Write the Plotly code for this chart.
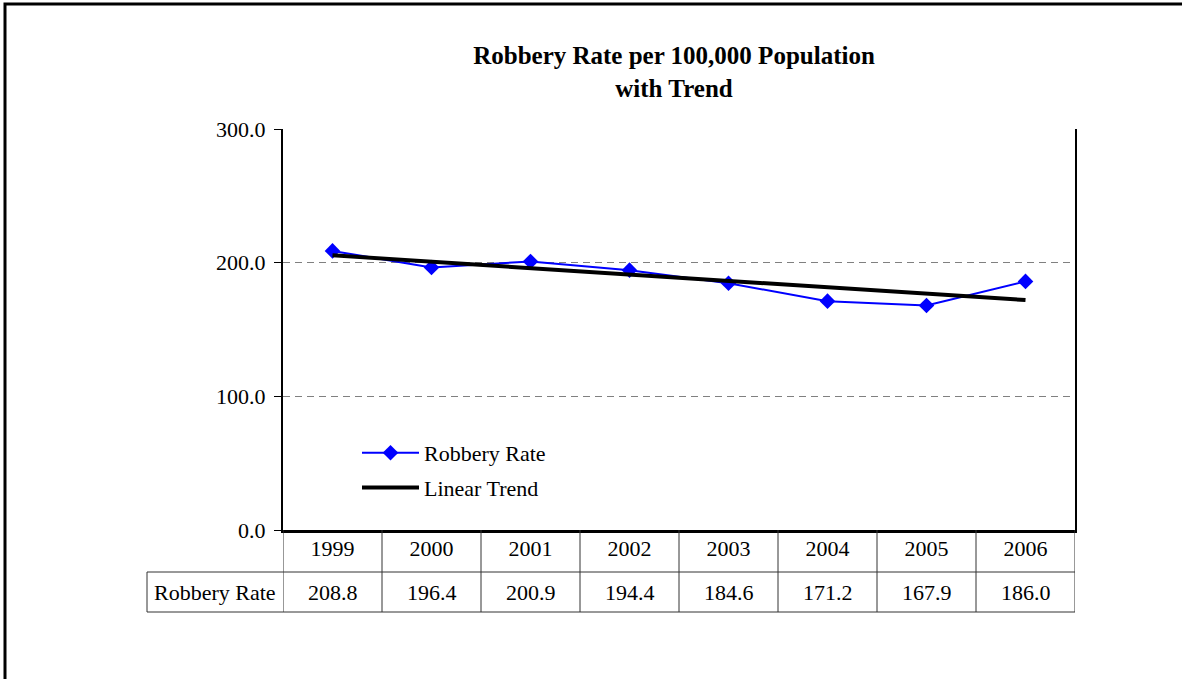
import numpy as np
import plotly.graph_objects as go

years = ["1999", "2000", "2001", "2002", "2003", "2004", "2005", "2006"]
robbery_rate = [208.8, 196.4, 200.9, 194.4, 184.6, 171.2, 167.9, 186.0]
y_ticks = [0, 100, 200, 300]

W, H = 1182, 679
FONT = "Times New Roman, Liberation Serif, serif"


def px(x):
    return x / W


def py(y):
    return 1 - y / H


# linear trend fitted on the series
idx = np.arange(len(years))
slope, intercept = np.polyfit(idx, robbery_rate, 1)
trend = slope * idx + intercept

fig = go.Figure()

fig.add_trace(go.Scatter(
    x=years,
    y=robbery_rate,
    mode='lines+markers',
    name='Robbery Rate',
    legendgroup='rate',
    line=dict(color='#0000ff', width=2),
    marker=dict(symbol='diamond', size=12, color='#0000ff')
))

fig.add_trace(go.Scatter(
    x=years,
    y=trend,
    mode='lines',
    name='Linear Trend',
    legendgroup='trend',
    line=dict(color='black', width=4)
))

shapes = []
# outer chart border
shapes.append(dict(type='rect', xref='paper', yref='paper',
                   x0=px(5), x1=px(1250), y0=py(750), y1=py(4),
                   line=dict(color='black', width=3)))
# data table grid
for i in range(len(years) + 1):
    shapes.append(dict(type='line', xref='x', yref='paper',
                       x0=i - 0.5, x1=i - 0.5, y0=py(530), y1=py(612),
                       line=dict(color='#333333', width=1)))
for yy in (572, 612):
    shapes.append(dict(type='line', xref='paper', yref='paper',
                       x0=px(147), x1=px(1075), y0=py(yy), y1=py(yy),
                       line=dict(color='#333333', width=1)))
shapes.append(dict(type='line', xref='paper', yref='paper',
                   x0=px(147), x1=px(147), y0=py(572), y1=py(612),
                   line=dict(color='#333333', width=1)))

annotations = [dict(x=px(215), y=py(592), xref='paper', yref='paper',
                    xanchor='center', yanchor='middle',
                    text='Robbery Rate', showarrow=False,
                    font=dict(family=FONT, size=22, color='black'))]
for i, v in enumerate(robbery_rate):
    annotations.append(dict(x=i, y=py(592), xref='x', yref='paper',
                            xanchor='center', yanchor='middle',
                            text=f"{v:.1f}", showarrow=False,
                            font=dict(family=FONT, size=22, color='black')))

fig.update_layout(
    width=W, height=H,
    margin=dict(l=0, r=0, t=0, b=0),
    paper_bgcolor='white',
    plot_bgcolor='white',
    font=dict(family=FONT, size=22, color='black'),
    title=dict(text='<b>Robbery Rate per 100,000 Population<br>with Trend</b>',
               x=px(674), xanchor='center', y=py(64), yanchor='top',
               font=dict(family=FONT, size=25, color='black')),
    xaxis=dict(domain=[px(283), px(1075)], type='category', range=[-0.5, 7.5],
               showline=True, linecolor='black', linewidth=3,
               showgrid=False, zeroline=False, ticks='', automargin=False,
               tickfont=dict(family=FONT, size=22), ticklabelstandoff=-3),
    yaxis=dict(domain=[py(530), py(129)], range=[0, 300], tickvals=y_ticks,
               tickformat='.1f', showgrid=True, gridcolor='#808080',
               griddash='7px,5px', gridwidth=1, zeroline=False, automargin=False,
               showline=True, linecolor='black', linewidth=2, mirror=True,
               ticks='outside', ticklen=7, tickcolor='black', tickwidth=1,
               tickfont=dict(family=FONT, size=22), ticklabelstandoff=4),
    legend=dict(x=px(357), y=py(432), xanchor='left', yanchor='top',
                bgcolor='rgba(0,0,0,0)', font=dict(family=FONT, size=22),
                itemwidth=57, traceorder='grouped', tracegroupgap=3),
    shapes=shapes,
    annotations=annotations,
)

fig.write_html("out.html", config={'displayModeBar': False},
               post_script="document.body.style.margin='0';")
